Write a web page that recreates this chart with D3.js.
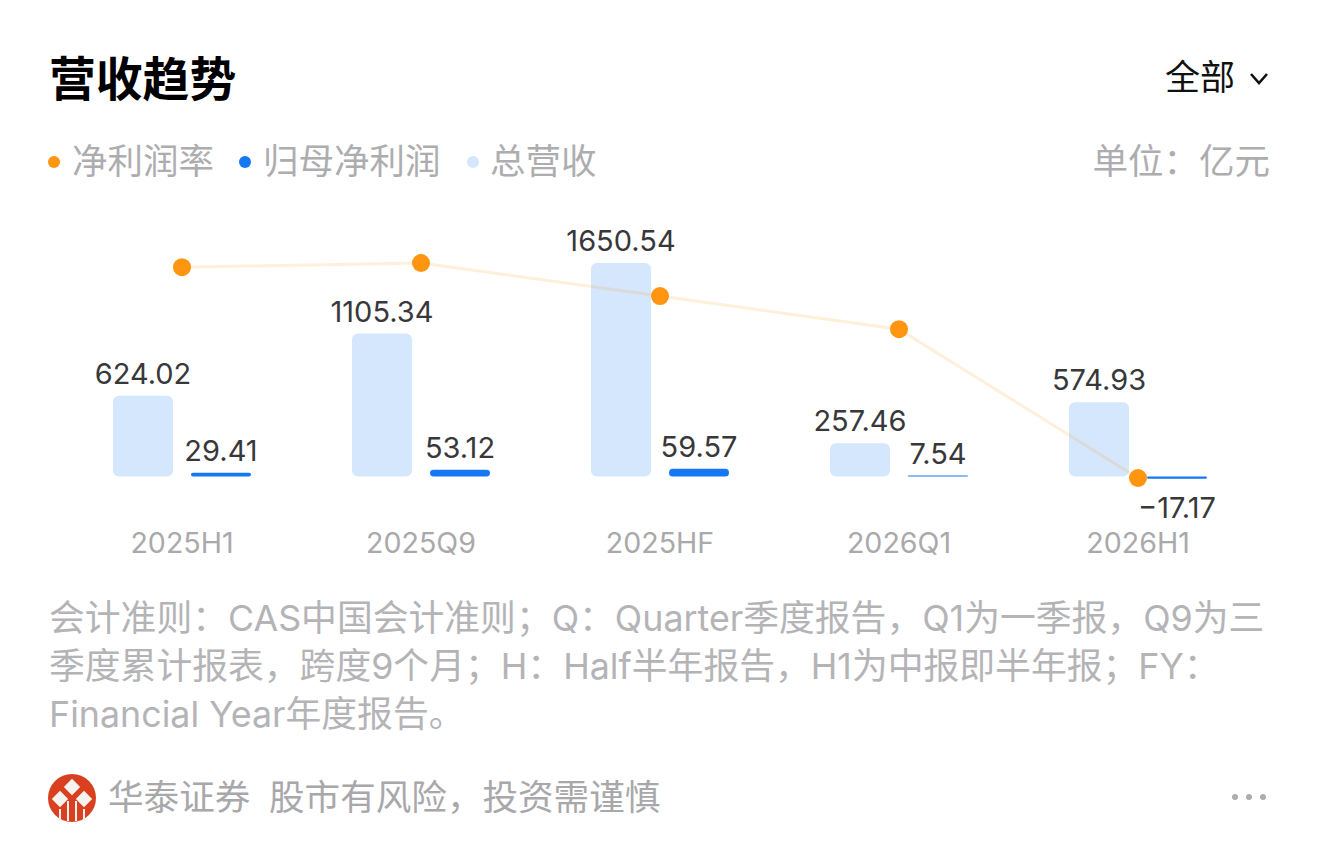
<!DOCTYPE html>
<html>
<head>
<meta charset="utf-8">
<script src="https://cdn.jsdelivr.net/npm/d3@7"></script>
<style>
    html, body { margin: 0; padding: 0; background: #fff; }
    svg { display: block; }
    text { font-family: "Inter", "Noto Sans CJK SC", sans-serif; }
</style>
</head>
<body>
<div id="chart"></div>
<script>
// values (亿元, margin in %)
const periods = ['2025H1', '2025Q9', '2025HF', '2026Q1', '2026H1'];
const revenue = [624.02, 1105.34, 1650.54, 257.46, 574.93];
const netProfit = [29.41, 53.12, 59.57, 7.54, -17.17];
const margin = [4.65, 4.8, 3.6, 2.4, -3.0];

const legendNames = ['净利润率', '归母净利润', '总营收'];
const legendColors = ['#ff9510', '#1677f5', '#d5e7fd'];
const noteLines = [
    '会计准则：CAS中国会计准则；Q：Quarter季度报告，Q1为一季报，Q9为三',
    '季度累计报表，跨度9个月；H：Half半年报告，H1为中报即半年报；FY：',
    'Financial Year年度报告。'
];

const width = 1320, height = 857;
const svg = d3.select('#chart').append('svg')
    .attr('width', width)
    .attr('height', height);

// header
svg.append('text').attr('x', 49).attr('y', 96)
    .attr('font-size', 46.8).attr('font-weight', 600).attr('fill', '#000')
    .text('营收趋势');
svg.append('text').attr('x', 1165).attr('y', 90)
    .attr('font-size', 35).attr('fill', '#111')
    .text('全部');
svg.append('path')
    .attr('d', 'M1251 74 L1259 83 L1267 74')
    .attr('fill', 'none').attr('stroke', '#111').attr('stroke-width', 2.6);

// legend
const legendX = [54, 245, 473];
const legendTextX = [72, 263, 490];
legendNames.forEach((name, i) => {
    svg.append('circle').attr('cx', legendX[i]).attr('cy', 162).attr('r', 6)
        .attr('fill', legendColors[i]);
    svg.append('text').attr('x', legendTextX[i]).attr('y', 174)
        .attr('font-size', 35.5).attr('fill', '#adadb0')
        .text(name);
});
svg.append('text').attr('x', 1270).attr('y', 174)
    .attr('text-anchor', 'end').attr('font-size', 35.5).attr('fill', '#adadb0')
    .text('单位：亿元');

// scales
const x0 = d3.scaleBand().domain(periods).range([62.5, 1257.5]);
const x1 = d3.scaleBand().domain(['revenue', 'netProfit']).range([50.5, 188.5]).paddingInner(0.231);
const y = d3.scaleLinear().domain([0, 1650.54]).range([476.5, 263]);
const yMargin = d3.scaleLinear().domain([-3.0, 4.8]).range([478, 263]);
const fmt = d3.format('.2f');

// revenue bars
const groups = svg.selectAll('g.period')
    .data(periods)
    .enter()
    .append('g')
    .attr('class', 'period')
    .attr('transform', d => `translate(${x0(d)},0)`);

groups.append('rect')
    .attr('x', x1('revenue'))
    .attr('y', (d, i) => y(revenue[i]))
    .attr('width', x1.bandwidth())
    .attr('height', (d, i) => y(0) - y(revenue[i]))
    .attr('rx', 6)
    .attr('fill', legendColors[2]);

// net profit bars, the loss is drawn below the baseline
groups.append('rect')
    .attr('x', x1('netProfit'))
    .attr('y', (d, i) => netProfit[i] >= 0 ? y(netProfit[i]) : y(0))
    .attr('width', x1.bandwidth())
    .attr('height', (d, i) => Math.abs(y(netProfit[i]) - y(0)))
    .attr('rx', (d, i) => Math.min(4, Math.abs(y(netProfit[i]) - y(0)) / 2))
    .attr('fill', legendColors[1]);

groups.append('text')
    .attr('x', x1('revenue') + x1.bandwidth() / 2)
    .attr('y', (d, i) => y(revenue[i]) - 12)
    .attr('text-anchor', 'middle')
    .attr('font-size', 29).attr('fill', '#38383a')
    .text((d, i) => fmt(revenue[i]));

groups.append('text')
    .attr('x', x1('netProfit') + x1.bandwidth() / 2)
    .attr('y', (d, i) => netProfit[i] >= 0 ? y(netProfit[i]) - 12 : y(netProfit[i]) + 39)
    .attr('text-anchor', 'middle')
    .attr('font-size', 29).attr('fill', '#38383a')
    .text((d, i) => fmt(netProfit[i]));

// margin line on top of the bars
const line = d3.line()
    .x((d, i) => x0(periods[i]) + x0.bandwidth() / 2)
    .y(d => yMargin(d));

svg.append('path')
    .datum(margin)
    .attr('d', line)
    .attr('fill', 'none')
    .attr('stroke', '#ff9510')
    .attr('stroke-opacity', 0.15)
    .attr('stroke-width', 3);

svg.selectAll('circle.margin')
    .data(margin)
    .enter()
    .append('circle')
    .attr('class', 'margin')
    .attr('cx', (d, i) => x0(periods[i]) + x0.bandwidth() / 2)
    .attr('cy', d => yMargin(d))
    .attr('r', 9)
    .attr('fill', '#ff9510');

// x axis, labels only
const axis = svg.append('g')
    .attr('transform', 'translate(0,533)')
    .call(d3.axisBottom(x0).tickSize(0).tickPadding(0));
axis.select('.domain').remove();
axis.selectAll('text')
    .attr('font-size', 28.6)
    .attr('font-family', '"Inter", sans-serif')
    .attr('fill', '#a9a9ac');

// footnote
svg.selectAll('text.note')
    .data(noteLines)
    .enter()
    .append('text')
    .attr('class', 'note')
    .attr('x', 49)
    .attr('y', (d, i) => 631 + i * 48)
    .attr('font-size', 35.8)
    .attr('fill', '#b4b4b7')
    .text(d => d);

// broker logo
const logo = svg.append('g').attr('transform', 'translate(72,798)');
logo.append('circle').attr('r', 24).attr('fill', '#d8401f');
[[0, -11], [-12, 1], [12, 1]].forEach(p => {
    logo.append('rect')
        .attr('x', p[0] - 5.8).attr('y', p[1] - 5.8)
        .attr('width', 11.6).attr('height', 11.6)
        .attr('transform', `rotate(45 ${p[0]} ${p[1]})`)
        .attr('fill', '#f6f2f0');
});
[-12, -4, 4, 12].forEach(px => {
    logo.append('line')
        .attr('x1', px).attr('x2', px)
        .attr('y1', Math.abs(px) === 4 ? 3 : 11).attr('y2', 23)
        .attr('stroke', '#f6f2f0').attr('stroke-width', 2);
});

svg.append('text').attr('x', 108).attr('y', 810)
    .attr('font-size', 35.6).attr('fill', '#a8a8ab')
    .text('华泰证券');
svg.append('text').attr('x', 269).attr('y', 810)
    .attr('font-size', 35.6).attr('fill', '#a8a8ab')
    .text('股市有风险，投资需谨慎');

[1235, 1249, 1263].forEach(cx => {
    svg.append('circle').attr('cx', cx).attr('cy', 797).attr('r', 3)
        .attr('fill', '#adadb0');
});
</script>
</body>
</html>
